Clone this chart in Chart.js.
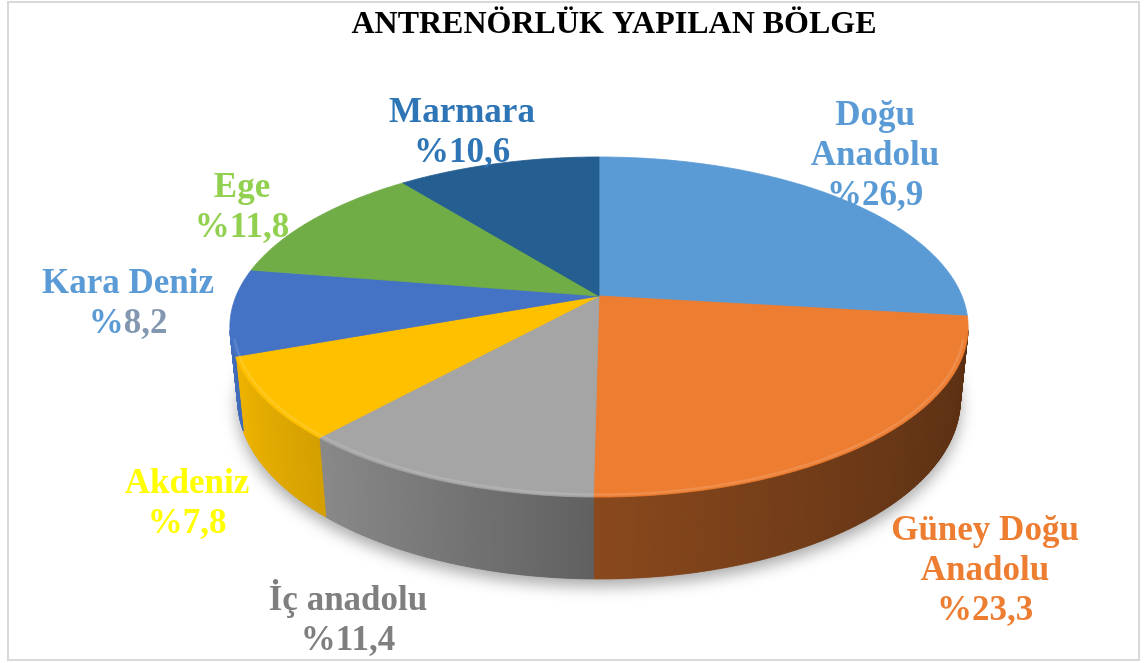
<!DOCTYPE html>
<html>
<head>
<meta charset="utf-8">
<script src="https://cdn.jsdelivr.net/npm/chart.js@4.4.1/dist/chart.umd.min.js"></script>
<style>
  html, body { margin: 0; padding: 0; background: #fff; }
</style>
</head>
<body>
<canvas id="regionChart" width="1148" height="663"></canvas>
<script>
// data
const regions = ['Doğu Anadolu', 'Güney Doğu Anadolu', 'İç anadolu', 'Akdeniz', 'Kara Deniz', 'Ege', 'Marmara'];
const shares = [26.9, 23.3, 11.4, 7.8, 8.2, 11.8, 10.6];
const labelLines = [['Doğu', 'Anadolu'], ['Güney Doğu', 'Anadolu'], ['İç anadolu'], ['Akdeniz'], ['Kara Deniz'], ['Ege'], ['Marmara']];
const sliceColors = ['#5B9BD5', '#ED7D31', '#A5A5A5', '#FFC000', '#4472C4', '#70AD47', '#255E91'];
const labelColors = ['#5B9BD5', '#ED7D31', '#7F7F7F', '#FFFF00', '#5B9BD5', '#92D050', '#2E75B6'];
const numberColors = [null, null, null, null, '#8497B0', null, null];

// where each label block sits (center x, first baseline)
const labelAnchors = [[875, 125], [985, 540], [348, 610], [187, 493], [128, 293], [242, 197], [462, 122]];
const lineGap = 40;

// perspective of the 3d disc
const cx = 599, cy = 296;
const tilt = Math.asin(0.4529);
const camDist = 4.888, focal = 1774, thick = 0.2253;

function project(a, r, z) {
  const u = r * Math.cos(a), v = -r * Math.sin(a);
  const depth = camDist + v * Math.cos(tilt) - z * Math.sin(tilt);
  return [cx + focal * u / depth, cy - focal * (v * Math.sin(tilt) + z * Math.cos(tilt)) / depth];
}

function shade(hex, f) {
  const n = parseInt(hex.slice(1), 16);
  const c = [(n >> 16) & 255, (n >> 8) & 255, n & 255].map(x => Math.max(0, Math.min(255, Math.round(x * f))));
  return 'rgb(' + c.join(',') + ')';
}

function lighten(hex, t) {
  const n = parseInt(hex.slice(1), 16);
  const c = [(n >> 16) & 255, (n >> 8) & 255, n & 255].map(x => Math.round(x + (255 - x) * t));
  return 'rgb(' + c.join(',') + ')';
}

const pie3d = {
  id: 'pie3d',
  beforeDatasetsDraw(chart) {
    const ctx = chart.ctx;
    const arcs = chart.getDatasetMeta(0).data;
    const colors = chart.data.datasets[0].backgroundColor;

    // soft shadow under the disc
    ctx.save();
    ctx.beginPath();
    for (let i = 0; i <= 360; i++) {
      const p = project(i * Math.PI / 180, 1, -thick);
      if (i === 0) ctx.moveTo(p[0], p[1]); else ctx.lineTo(p[0], p[1]);
    }
    ctx.closePath();
    ctx.shadowColor = 'rgba(0,0,0,0.35)';
    ctx.shadowBlur = 16;
    ctx.shadowOffsetY = 7;
    ctx.fillStyle = '#777';
    ctx.fill();
    ctx.restore();

    // side wall, only the front part shows
    ctx.save();
    arcs.forEach((arc, i) => {
      const n = Math.max(2, Math.ceil((arc.endAngle - arc.startAngle) / 0.008));
      const step = (arc.endAngle - arc.startAngle) / n;
      for (let k = 0; k < n; k++) {
        const a0 = arc.startAngle + k * step, a1 = a0 + step, am = a0 + step / 2;
        const u = Math.cos(am), v = -Math.sin(am);
        if (v > -0.2) continue;
        const f = u < 0 ? 0.58 - 0.38 * u : 0.58 - 0.2 * u;
        const p0 = project(a0, 1, 0), p1 = project(a1, 1, 0);
        const p2 = project(a1, 1, -thick), p3 = project(a0, 1, -thick);
        ctx.beginPath();
        ctx.moveTo(p0[0], p0[1]);
        ctx.lineTo(p1[0], p1[1]);
        ctx.lineTo(p2[0], p2[1]);
        ctx.lineTo(p3[0], p3[1]);
        ctx.closePath();
        ctx.fillStyle = shade(colors[i], f);
        ctx.strokeStyle = ctx.fillStyle;
        ctx.lineWidth = 0.8;
        ctx.fill();
        ctx.stroke();
      }
    });
    ctx.restore();

    // top face
    ctx.save();
    arcs.forEach((arc, i) => {
      const n = Math.max(4, Math.ceil((arc.endAngle - arc.startAngle) / 0.01));
      ctx.beginPath();
      ctx.moveTo(cx, cy);
      for (let k = 0; k <= n; k++) {
        const p = project(arc.startAngle + (arc.endAngle - arc.startAngle) * k / n, 1, 0);
        ctx.lineTo(p[0], p[1]);
      }
      ctx.closePath();
      ctx.fillStyle = colors[i];
      ctx.strokeStyle = colors[i];
      ctx.lineWidth = 0.8;
      ctx.fill();
      ctx.stroke();
    });

    // soft bevel highlight right at the front rim
    arcs.forEach((arc, i) => {
      const n = Math.max(4, Math.ceil((arc.endAngle - arc.startAngle) / 0.01));
      ctx.beginPath();
      let started = false;
      for (let k = 0; k <= n; k++) {
        const a = arc.startAngle + (arc.endAngle - arc.startAngle) * k / n;
        if (-Math.sin(a) > -0.25) { started = false; continue; }
        const p = project(a, 0.99, 0);
        if (!started) { ctx.moveTo(p[0], p[1]); started = true; } else ctx.lineTo(p[0], p[1]);
      }
      ctx.strokeStyle = lighten(colors[i], 0.25);
      ctx.globalAlpha = 0.5;
      ctx.lineWidth = 2.5;
      ctx.stroke();
      ctx.globalAlpha = 1;
    });
    ctx.restore();
    return false;
  },
  afterDraw(chart) {
    const ctx = chart.ctx;
    ctx.save();
    ctx.strokeStyle = '#D9D9D9';
    ctx.lineWidth = 2;
    ctx.strokeRect(8, 2, 1131, 658);

    ctx.font = 'bold 35px "Liberation Serif", "Times New Roman", serif';
    ctx.textBaseline = 'alphabetic';
    regions.forEach((name, i) => {
      const [x, y] = labelAnchors[i];
      const pct = '%' + shares[i].toFixed(1).replace('.', ',');
      const lines = labelLines[i].concat([pct]);
      lines.forEach((t, j) => {
        const yy = y + j * lineGap;
        if (t === pct && numberColors[i]) {
          const w = ctx.measureText(t).width;
          const wp = ctx.measureText('%').width;
          ctx.textAlign = 'left';
          ctx.fillStyle = labelColors[i];
          ctx.fillText('%', x - w / 2, yy);
          ctx.fillStyle = numberColors[i];
          ctx.fillText(t.slice(1), x - w / 2 + wp, yy);
        } else {
          ctx.textAlign = 'center';
          ctx.fillStyle = labelColors[i];
          ctx.fillText(t, x, yy);
        }
      });
    });
    ctx.restore();
  }
};

new Chart(document.getElementById('regionChart'), {
  type: 'pie',
  data: {
    labels: regions,
    datasets: [{
      data: shares,
      backgroundColor: sliceColors,
      borderWidth: 0
    }]
  },
  options: {
    responsive: false,
    animation: false,
    layout: { padding: { left: 80 } },
    plugins: {
      legend: { display: false },
      tooltip: { enabled: false },
      title: {
        display: true,
        text: 'ANTRENÖRLÜK YAPILAN BÖLGE',
        color: '#000',
        font: { family: '"Liberation Serif", "Times New Roman", serif', size: 32, weight: 'bold' },
        padding: { top: 6, bottom: 0 }
      }
    }
  },
  plugins: [pie3d]
});
</script>
</body>
</html>
